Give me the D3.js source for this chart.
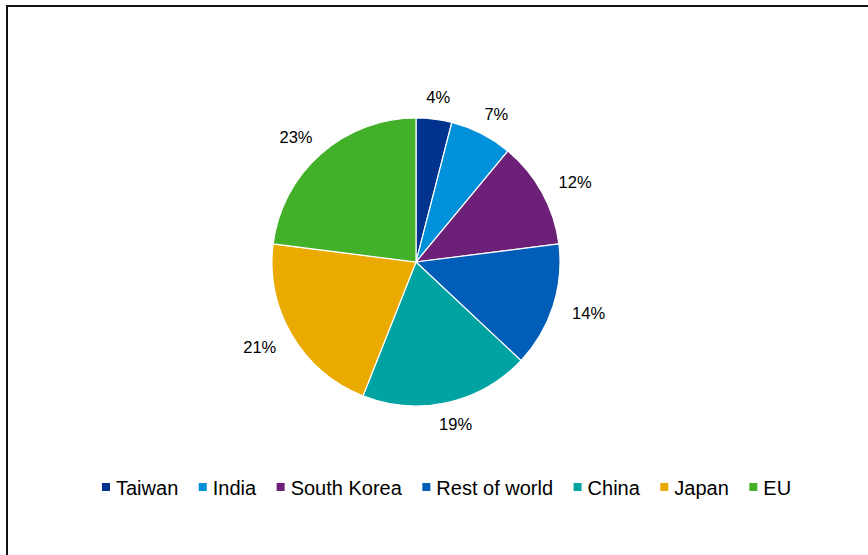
<!DOCTYPE html>
<html>
<head>
<meta charset="utf-8">
<script src="https://cdn.jsdelivr.net/npm/d3@7"></script>
<style>
  html, body { margin: 0; padding: 0; background: #fff; }
  svg { display: block; font-family: "Liberation Sans", Arial, sans-serif; }
</style>
</head>
<body>
<svg id="chart" width="868" height="555"></svg>
<script>
// Share by region
const regions = ["Taiwan", "India", "South Korea", "Rest of world", "China", "Japan", "EU"];
const shares  = [4, 7, 12, 14, 19, 21, 23];
const colors  = ["#00338D", "#0091DA", "#6D2077", "#005EB8", "#00A3A1", "#EAAA00", "#43B02A"];

const svg = d3.select("#chart");
const W = 868, H = 555;

// outer frame (runs past the right and bottom edges)
svg.append("rect")
  .attr("x", 7).attr("y", 6)
  .attr("width", W + 20).attr("height", H + 20)
  .attr("fill", "#fff")
  .attr("stroke", "#111").attr("stroke-width", 2);

const cx = 416, cy = 262, R = 144;
const color = d3.scaleOrdinal().domain(regions).range(colors);

const data = regions.map((r, i) => ({ region: r, value: shares[i] }));
const pie = d3.pie().value(d => d.value).sort(null);
const arc = d3.arc().innerRadius(0).outerRadius(R);
const arcs = pie(data);

const g = svg.append("g").attr("transform", `translate(${cx},${cy})`);

g.selectAll("path.slice")
  .data(arcs)
  .join("path")
  .attr("class", "slice")
  .attr("d", arc)
  .attr("fill", d => color(d.data.region))
  .attr("stroke", "#fff")
  .attr("stroke-width", 1.2);

// percentage labels just outside each slice
const fs = 16.5;
g.selectAll("text.pct")
  .data(arcs)
  .join("text")
  .attr("class", "pct")
  .attr("font-size", fs)
  .attr("fill", "#000")
  .attr("text-anchor", "middle")
  .attr("dominant-baseline", "central")
  .text(d => d.data.value + "%")
  .each(function(d) {
    const a = (d.startAngle + d.endAngle) / 2;
    const ux = Math.sin(a), uy = -Math.cos(a);
    const w = this.getComputedTextLength();
    const h = fs * 0.9;
    const rr = R + 15;
    const x = ux * rr + ux * w / 2 + ux * 6;
    const y = uy * rr + uy * h / 2;
    d3.select(this).attr("x", x).attr("y", y);
  });

// legend
const legend = svg.append("g").attr("transform", "translate(102,487)");
let lx = 0;
regions.forEach((r, i) => {
  const item = legend.append("g").attr("transform", `translate(${lx},0)`);
  item.append("rect")
    .attr("x", 0).attr("y", -4)
    .attr("width", 8).attr("height", 8)
    .attr("fill", color(r));
  const t = item.append("text")
    .attr("x", 14).attr("y", 1)
    .attr("dominant-baseline", "central")
    .attr("font-size", 20)
    .attr("fill", "#000")
    .text(r);
  lx += 14 + t.node().getComputedTextLength() + 20.5;
});
</script>
</body>
</html>
